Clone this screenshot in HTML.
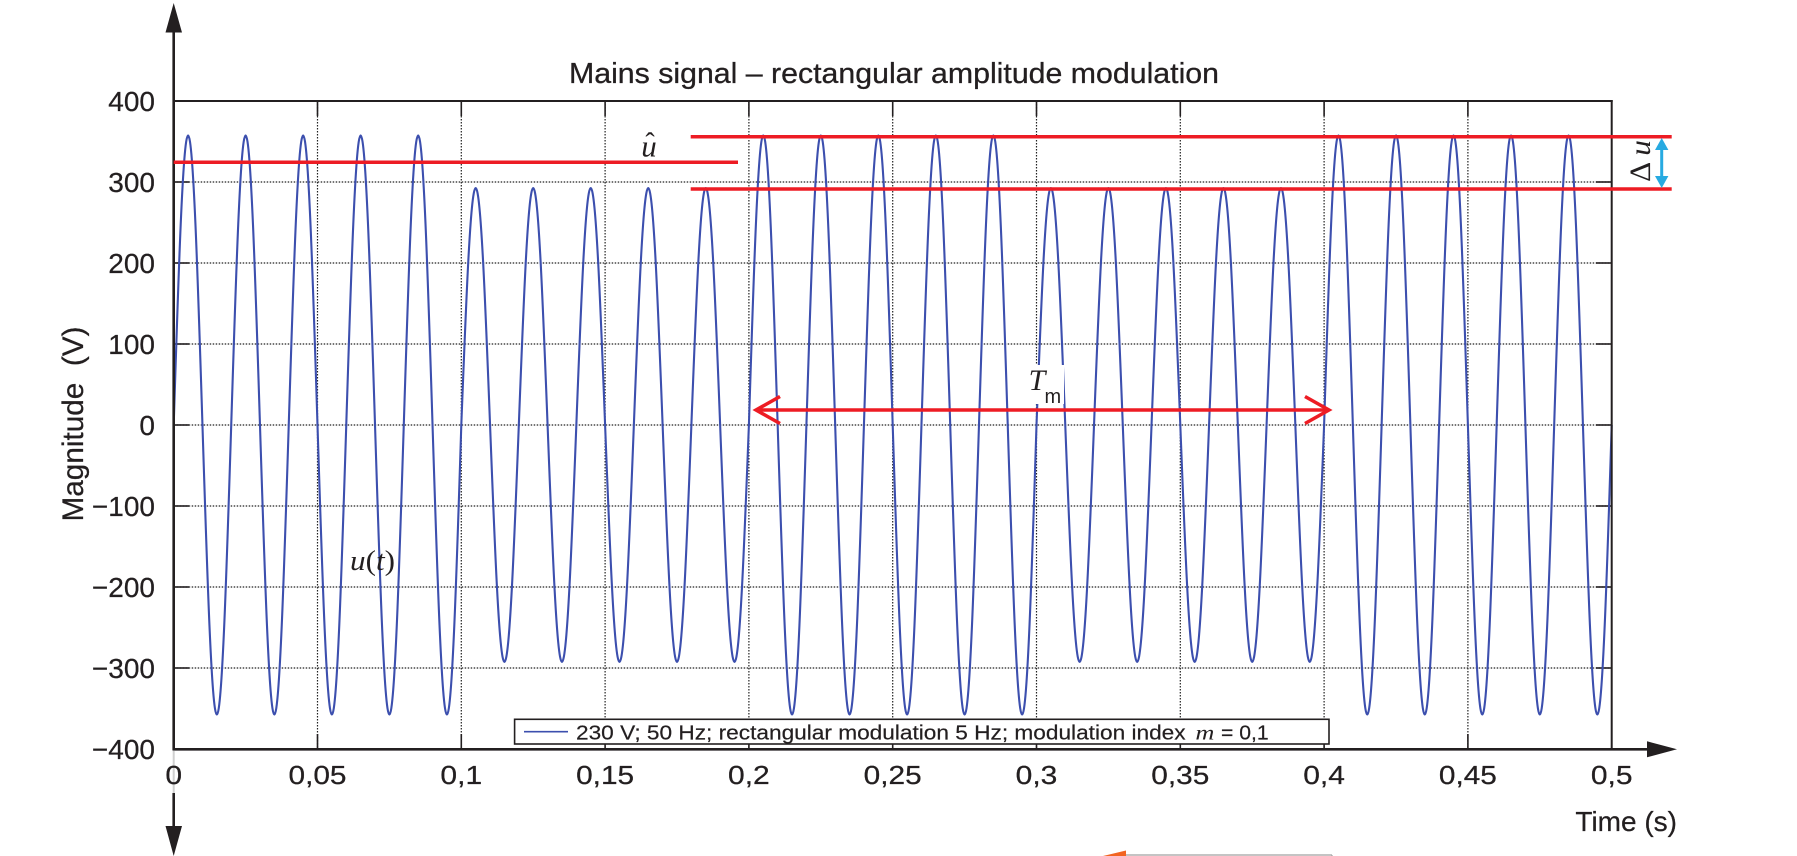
<!DOCTYPE html>
<html>
<head>
<meta charset="utf-8">
<style>
html,body{margin:0;padding:0;background:#fff;}
svg{display:block;}
</style>
</head>
<body>
<svg width="1797" height="856" viewBox="0 0 1797 856" xmlns="http://www.w3.org/2000/svg">
<rect x="0" y="0" width="1797" height="856" fill="#fff"/>

<!-- title -->
<text x="569" y="83" font-family="Liberation Sans, sans-serif" font-size="29" fill="#231f20" stroke="#231f20" stroke-width="0.3" textLength="650" lengthAdjust="spacingAndGlyphs">Mains signal – rectangular amplitude modulation</text>

<!-- grid (dotted) -->
<g stroke="#222" stroke-width="1.2" stroke-dasharray="1.5,1.5" fill="none">
  <line x1="317.5" y1="101" x2="317.5" y2="749"/>
  <line x1="461.3" y1="101" x2="461.3" y2="749"/>
  <line x1="605.1" y1="101" x2="605.1" y2="749"/>
  <line x1="748.9" y1="101" x2="748.9" y2="749"/>
  <line x1="892.7" y1="101" x2="892.7" y2="749"/>
  <line x1="1036.5" y1="101" x2="1036.5" y2="749"/>
  <line x1="1180.3" y1="101" x2="1180.3" y2="749"/>
  <line x1="1324.1" y1="101" x2="1324.1" y2="749"/>
  <line x1="1467.9" y1="101" x2="1467.9" y2="749"/>
  <line x1="173.7" y1="182" x2="1611.7" y2="182"/>
  <line x1="173.7" y1="263" x2="1611.7" y2="263"/>
  <line x1="173.7" y1="344" x2="1611.7" y2="344"/>
  <line x1="173.7" y1="425" x2="1611.7" y2="425"/>
  <line x1="173.7" y1="506" x2="1611.7" y2="506"/>
  <line x1="173.7" y1="587" x2="1611.7" y2="587"/>
  <line x1="173.7" y1="668" x2="1611.7" y2="668"/>
</g>

<!-- ticks -->
<g stroke="#231f20" stroke-width="1.6">
  <line x1="317.5" y1="101" x2="317.5" y2="116"/><line x1="317.5" y1="749" x2="317.5" y2="734"/>
  <line x1="461.3" y1="101" x2="461.3" y2="116"/><line x1="461.3" y1="749" x2="461.3" y2="734"/>
  <line x1="605.1" y1="101" x2="605.1" y2="116"/><line x1="605.1" y1="749" x2="605.1" y2="734"/>
  <line x1="748.9" y1="101" x2="748.9" y2="116"/><line x1="748.9" y1="749" x2="748.9" y2="734"/>
  <line x1="892.7" y1="101" x2="892.7" y2="116"/><line x1="892.7" y1="749" x2="892.7" y2="734"/>
  <line x1="1036.5" y1="101" x2="1036.5" y2="116"/><line x1="1036.5" y1="749" x2="1036.5" y2="734"/>
  <line x1="1180.3" y1="101" x2="1180.3" y2="116"/><line x1="1180.3" y1="749" x2="1180.3" y2="734"/>
  <line x1="1324.1" y1="101" x2="1324.1" y2="116"/><line x1="1324.1" y1="749" x2="1324.1" y2="734"/>
  <line x1="1467.9" y1="101" x2="1467.9" y2="116"/><line x1="1467.9" y1="749" x2="1467.9" y2="734"/>
  <line x1="173.7" y1="182" x2="189" y2="182"/><line x1="1611.7" y1="182" x2="1596" y2="182"/>
  <line x1="173.7" y1="263" x2="189" y2="263"/><line x1="1611.7" y1="263" x2="1596" y2="263"/>
  <line x1="173.7" y1="344" x2="189" y2="344"/><line x1="1611.7" y1="344" x2="1596" y2="344"/>
  <line x1="173.7" y1="425" x2="189" y2="425"/><line x1="1611.7" y1="425" x2="1596" y2="425"/>
  <line x1="173.7" y1="506" x2="189" y2="506"/><line x1="1611.7" y1="506" x2="1596" y2="506"/>
  <line x1="173.7" y1="587" x2="189" y2="587"/><line x1="1611.7" y1="587" x2="1596" y2="587"/>
  <line x1="173.7" y1="668" x2="189" y2="668"/><line x1="1611.7" y1="668" x2="1596" y2="668"/>
</g>

<!-- signal -->
<path fill="none" stroke="#3c4fae" stroke-width="2.1" stroke-linejoin="round" d="M173.7,425
c4.689,-148.4 9.176,-289.6 14.38,-289.6 c5.204,0 9.691,141.2 14.38,289.6 c4.689,148.4 9.176,289.6 14.38,289.6 c5.204,0 9.691,-141.2 14.38,-289.6
c4.689,-148.4 9.176,-289.6 14.38,-289.6 c5.204,0 9.691,141.2 14.38,289.6 c4.689,148.4 9.176,289.6 14.38,289.6 c5.204,0 9.691,-141.2 14.38,-289.6
c4.689,-148.4 9.176,-289.6 14.38,-289.6 c5.204,0 9.691,141.2 14.38,289.6 c4.689,148.4 9.176,289.6 14.38,289.6 c5.204,0 9.691,-141.2 14.38,-289.6
c4.689,-148.4 9.176,-289.6 14.38,-289.6 c5.204,0 9.691,141.2 14.38,289.6 c4.689,148.4 9.176,289.6 14.38,289.6 c5.204,0 9.691,-141.2 14.38,-289.6
c4.689,-148.4 9.176,-289.6 14.38,-289.6 c5.204,0 9.691,141.2 14.38,289.6 c4.689,148.4 9.176,289.6 14.38,289.6 c5.204,0 9.691,-141.2 14.38,-289.6
c4.689,-121.4 9.176,-236.9 14.38,-236.9 c5.204,0 9.691,115.5 14.38,236.9 c4.689,121.4 9.176,236.9 14.38,236.9 c5.204,0 9.691,-115.5 14.38,-236.9
c4.689,-121.4 9.176,-236.9 14.38,-236.9 c5.204,0 9.691,115.5 14.38,236.9 c4.689,121.4 9.176,236.9 14.38,236.9 c5.204,0 9.691,-115.5 14.38,-236.9
c4.689,-121.4 9.176,-236.9 14.38,-236.9 c5.204,0 9.691,115.5 14.38,236.9 c4.689,121.4 9.176,236.9 14.38,236.9 c5.204,0 9.691,-115.5 14.38,-236.9
c4.689,-121.4 9.176,-236.9 14.38,-236.9 c5.204,0 9.691,115.5 14.38,236.9 c4.689,121.4 9.176,236.9 14.38,236.9 c5.204,0 9.691,-115.5 14.38,-236.9
c4.689,-121.4 9.176,-236.9 14.38,-236.9 c5.204,0 9.691,115.5 14.38,236.9 c4.689,121.4 9.176,236.9 14.38,236.9 c5.204,0 9.691,-115.5 14.38,-236.9
c4.689,-148.4 9.176,-289.6 14.38,-289.6 c5.204,0 9.691,141.2 14.38,289.6 c4.689,148.4 9.176,289.6 14.38,289.6 c5.204,0 9.691,-141.2 14.38,-289.6
c4.689,-148.4 9.176,-289.6 14.38,-289.6 c5.204,0 9.691,141.2 14.38,289.6 c4.689,148.4 9.176,289.6 14.38,289.6 c5.204,0 9.691,-141.2 14.38,-289.6
c4.689,-148.4 9.176,-289.6 14.38,-289.6 c5.204,0 9.691,141.2 14.38,289.6 c4.689,148.4 9.176,289.6 14.38,289.6 c5.204,0 9.691,-141.2 14.38,-289.6
c4.689,-148.4 9.176,-289.6 14.38,-289.6 c5.204,0 9.691,141.2 14.38,289.6 c4.689,148.4 9.176,289.6 14.38,289.6 c5.204,0 9.691,-141.2 14.38,-289.6
c4.689,-148.4 9.176,-289.6 14.38,-289.6 c5.204,0 9.691,141.2 14.38,289.6 c4.689,148.4 9.176,289.6 14.38,289.6 c5.204,0 9.691,-141.2 14.38,-289.6
c4.689,-121.4 9.176,-236.9 14.38,-236.9 c5.204,0 9.691,115.5 14.38,236.9 c4.689,121.4 9.176,236.9 14.38,236.9 c5.204,0 9.691,-115.5 14.38,-236.9
c4.689,-121.4 9.176,-236.9 14.38,-236.9 c5.204,0 9.691,115.5 14.38,236.9 c4.689,121.4 9.176,236.9 14.38,236.9 c5.204,0 9.691,-115.5 14.38,-236.9
c4.689,-121.4 9.176,-236.9 14.38,-236.9 c5.204,0 9.691,115.5 14.38,236.9 c4.689,121.4 9.176,236.9 14.38,236.9 c5.204,0 9.691,-115.5 14.38,-236.9
c4.689,-121.4 9.176,-236.9 14.38,-236.9 c5.204,0 9.691,115.5 14.38,236.9 c4.689,121.4 9.176,236.9 14.38,236.9 c5.204,0 9.691,-115.5 14.38,-236.9
c4.689,-121.4 9.176,-236.9 14.38,-236.9 c5.204,0 9.691,115.5 14.38,236.9 c4.689,121.4 9.176,236.9 14.38,236.9 c5.204,0 9.691,-115.5 14.38,-236.9
c4.689,-148.4 9.176,-289.6 14.38,-289.6 c5.204,0 9.691,141.2 14.38,289.6 c4.689,148.4 9.176,289.6 14.38,289.6 c5.204,0 9.691,-141.2 14.38,-289.6
c4.689,-148.4 9.176,-289.6 14.38,-289.6 c5.204,0 9.691,141.2 14.38,289.6 c4.689,148.4 9.176,289.6 14.38,289.6 c5.204,0 9.691,-141.2 14.38,-289.6
c4.689,-148.4 9.176,-289.6 14.38,-289.6 c5.204,0 9.691,141.2 14.38,289.6 c4.689,148.4 9.176,289.6 14.38,289.6 c5.204,0 9.691,-141.2 14.38,-289.6
c4.689,-148.4 9.176,-289.6 14.38,-289.6 c5.204,0 9.691,141.2 14.38,289.6 c4.689,148.4 9.176,289.6 14.38,289.6 c5.204,0 9.691,-141.2 14.38,-289.6
c4.689,-148.4 9.176,-289.6 14.38,-289.6 c5.204,0 9.691,141.2 14.38,289.6 c4.689,148.4 9.176,289.6 14.38,289.6 c5.204,0 9.691,-141.2 14.38,-289.6"/>

<!-- plot border top/right -->
<g stroke="#231f20" stroke-width="2" fill="none">
  <line x1="173.7" y1="101" x2="1612.7" y2="101"/>
  <line x1="1611.7" y1="100" x2="1611.7" y2="749"/>
</g>

<!-- axes -->
<g stroke="#231f20" stroke-width="2.6" fill="none">
  <line x1="173.7" y1="28" x2="173.7" y2="750"/>
  <line x1="172.5" y1="749.3" x2="1650" y2="749.3"/>
  <line x1="173.7" y1="793" x2="173.7" y2="830"/>
</g>
<line x1="173.7" y1="751" x2="173.7" y2="793" stroke="#d0d0d0" stroke-width="2"/>
<polygon points="173.7,3 165.5,32.5 182,32.5" fill="#231f20"/>
<polygon points="173.7,856 165.5,826 182,826" fill="#231f20"/>
<polygon points="1677,749.3 1647,741.3 1647,757.3" fill="#231f20"/>

<!-- y tick labels -->
<g font-family="Liberation Sans, sans-serif" font-size="28" fill="#231f20" stroke="#231f20" stroke-width="0.25" text-anchor="end">
  <text x="155" y="111">400</text>
  <text x="155" y="192">300</text>
  <text x="155" y="273">200</text>
  <text x="155" y="354">100</text>
  <text x="155" y="435">0</text>
  <text x="155" y="516">−100</text>
  <text x="155" y="597">−200</text>
  <text x="155" y="678">−300</text>
  <text x="155" y="759">−400</text>
</g>

<!-- x tick labels -->
<g font-family="Liberation Sans, sans-serif" font-size="26" fill="#231f20" stroke="#231f20" stroke-width="0.25" text-anchor="middle">
  <text x="173.7" y="784" textLength="16.7" lengthAdjust="spacingAndGlyphs">0</text>
  <text x="317.5" y="784" textLength="58" lengthAdjust="spacingAndGlyphs">0,05</text>
  <text x="461.3" y="784" textLength="41.7" lengthAdjust="spacingAndGlyphs">0,1</text>
  <text x="605.1" y="784" textLength="58" lengthAdjust="spacingAndGlyphs">0,15</text>
  <text x="748.9" y="784" textLength="41.7" lengthAdjust="spacingAndGlyphs">0,2</text>
  <text x="892.7" y="784" textLength="58" lengthAdjust="spacingAndGlyphs">0,25</text>
  <text x="1036.5" y="784" textLength="41.7" lengthAdjust="spacingAndGlyphs">0,3</text>
  <text x="1180.3" y="784" textLength="58" lengthAdjust="spacingAndGlyphs">0,35</text>
  <text x="1324.1" y="784" textLength="41.7" lengthAdjust="spacingAndGlyphs">0,4</text>
  <text x="1467.9" y="784" textLength="58" lengthAdjust="spacingAndGlyphs">0,45</text>
  <text x="1611.7" y="784" textLength="41.7" lengthAdjust="spacingAndGlyphs">0,5</text>
</g>

<!-- axis titles -->
<text x="1677" y="831" font-family="Liberation Sans, sans-serif" font-size="28" fill="#231f20" stroke="#231f20" stroke-width="0.25" text-anchor="end">Time (s)</text>
<text transform="translate(83,424) rotate(-90)" x="0" y="0" font-family="Liberation Sans, sans-serif" font-size="30" fill="#231f20" stroke="#231f20" stroke-width="0.25" text-anchor="middle" textLength="195" lengthAdjust="spacingAndGlyphs">Magnitude&#160; (V)</text>

<!-- red annotation lines -->
<g stroke="#ed1c24" stroke-width="3.5" fill="none">
  <line x1="173.7" y1="162.3" x2="738" y2="162.3"/>
  <line x1="690.7" y1="136.7" x2="1671.7" y2="136.7"/>
  <line x1="690.7" y1="189" x2="1671.7" y2="189"/>
  <line x1="757" y1="410" x2="1328" y2="410"/>
  <polyline points="780,396.5 756,410 780,423.5" stroke-linejoin="miter"/>
  <polyline points="1305,396.5 1329,410 1305,423.5" stroke-linejoin="miter"/>
</g>

<!-- u hat -->
<text x="649" y="156.7" font-family="Liberation Serif, serif" font-style="italic" font-size="31" fill="#231f20" text-anchor="middle">u</text>
<text x="650" y="152" font-family="Liberation Serif, serif" font-size="28" fill="#231f20" text-anchor="middle">ˆ</text>

<!-- delta u -->
<line x1="1661.7" y1="146" x2="1661.7" y2="180" stroke="#27aae1" stroke-width="3"/>
<polygon points="1661.7,138 1655,150 1668.4,150" fill="#27aae1"/>
<polygon points="1661.7,188 1655,176 1668.4,176" fill="#27aae1"/>
<text transform="translate(1650,161) rotate(-90)" x="0" y="0" font-family="Liberation Serif, serif" font-size="30" fill="#231f20" text-anchor="middle" textLength="42" lengthAdjust="spacingAndGlyphs">Δ <tspan font-style="italic">u</tspan></text>

<!-- T_m -->
<rect x="1031" y="365" width="33" height="39" fill="#fff"/>
<text x="1028.6" y="390" font-family="Liberation Serif, serif" font-style="italic" font-size="30" fill="#231f20">T</text>
<text x="1044.5" y="403" font-family="Liberation Sans, sans-serif" font-size="20" fill="#231f20">m</text>

<!-- u(t) -->
<text x="350" y="570" font-family="Liberation Serif, serif" font-size="28" fill="#231f20" textLength="45" lengthAdjust="spacingAndGlyphs"><tspan font-style="italic">u</tspan>(<tspan font-style="italic">t</tspan>)</text>

<!-- legend -->
<rect x="514.6" y="719.3" width="814.4" height="24.7" fill="#fff" stroke="#231f20" stroke-width="1.6"/>
<line x1="524" y1="731.7" x2="568" y2="731.7" stroke="#3c4fae" stroke-width="1.6"/>
<text x="576" y="739.3" font-family="Liberation Sans, sans-serif" font-size="20" fill="#231f20" stroke="#231f20" stroke-width="0.2" textLength="609.6" lengthAdjust="spacingAndGlyphs">230 V; 50 Hz; rectangular modulation 5 Hz; modulation index</text>
<text x="1195.4" y="739.3" font-family="Liberation Serif, serif" font-style="italic" font-size="21" fill="#231f20" textLength="19" lengthAdjust="spacingAndGlyphs">m</text>
<text x="1221" y="739.3" font-family="Liberation Sans, sans-serif" font-size="20" fill="#231f20" stroke="#231f20" stroke-width="0.2" textLength="47.6" lengthAdjust="spacingAndGlyphs">= 0,1</text>

<!-- bottom cut-off bits -->
<polygon points="1103,856 1126,850.5 1126,856" fill="#f26522"/>
<line x1="1126" y1="855" x2="1332" y2="855" stroke="#a0a0a0" stroke-width="1.2"/>
<line x1="1332" y1="855" x2="1332" y2="856" stroke="#a0a0a0" stroke-width="1.2"/>
<text x="1643" y="876" font-family="Liberation Sans, sans-serif" font-size="28" fill="#231f20">470</text>
</svg>
</body>
</html>
